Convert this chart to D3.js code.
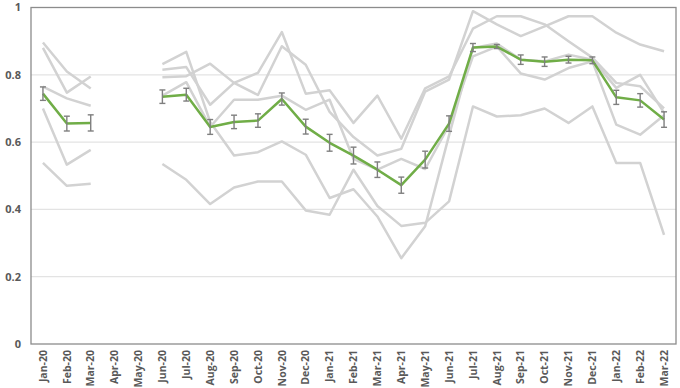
<!DOCTYPE html>
<html>
<head>
<meta charset="utf-8">
<script src="https://cdn.jsdelivr.net/npm/d3@7"></script>
<style>
  body { margin: 0; background: #fff; }
  text { font-family: "Open Sans", "Liberation Sans", sans-serif; font-weight: bold; fill: #595959; }
</style>
</head>
<body>
<svg id="chart" width="680" height="388"></svg>
<script>
// month categories
const months = ["Jan-20","Feb-20","Mar-20","Apr-20","May-20","Jun-20","Jul-20","Aug-20","Sep-20",
  "Oct-20","Nov-20","Dec-20","Jan-21","Feb-21","Mar-21","Apr-21","May-21","Jun-21","Jul-21",
  "Aug-21","Sep-21","Oct-21","Nov-21","Dec-21","Jan-22","Feb-22","Mar-22"];

// individual series (grey)
const s1 = [0.896,0.81,0.759,null,null,0.832,0.868,0.66,0.56,0.57,0.602,0.5625,0.434,0.46,0.379,0.255,0.35,0.62,0.88,0.893,0.845,0.84,0.86,0.845,0.761,0.80,0.687];
const s2 = [0.88,0.747,0.795,null,null,0.815,0.823,0.711,0.776,0.806,0.927,0.744,0.754,0.657,0.738,0.61,0.76,0.795,0.937,0.974,0.974,0.95,0.90,0.851,0.776,0.766,0.70];
const s3 = [0.765,0.73,0.708,null,null,0.793,0.796,0.833,0.776,0.74,0.885,0.83,0.69,0.615,0.56,0.58,0.75,0.786,0.989,0.95,0.915,0.944,0.974,0.974,0.925,0.89,0.87];
const s4 = [0.70,0.533,0.577,null,null,0.738,0.778,0.645,0.726,0.726,0.738,0.696,0.726,0.55,0.518,0.55,0.52,0.65,0.855,0.884,0.804,0.786,0.82,0.84,0.652,0.622,0.68];
const s5 = [0.538,0.47,0.476,null,null,0.535,0.488,0.416,0.465,0.483,0.483,0.397,0.384,0.518,0.41,0.351,0.36,0.424,0.706,0.676,0.68,0.70,0.657,0.706,0.538,0.538,0.324];
const greySeries = [s1, s2, s3, s4, s5];

// mean (green) and error
const meanVals = [0.744,0.655,0.657,null,null,0.735,0.741,0.645,0.66,0.664,0.728,0.646,0.598,0.56,0.518,0.472,0.548,0.655,0.881,0.884,0.845,0.839,0.845,0.843,0.733,0.724,0.667];
const errVals = [0.02,0.022,0.024,null,null,0.02,0.019,0.022,0.02,0.02,0.018,0.022,0.025,0.025,0.023,0.024,0.025,0.023,0.012,0.006,0.014,0.014,0.01,0.01,0.021,0.02,0.023];

const yTicks = [0, 0.2, 0.4, 0.6, 0.8, 1];

const svg = d3.select("#chart");
const m = { left: 31, right: 676, top: 7.5, bottom: 344 };

const x = d3.scaleBand().domain(months).range([m.left, m.right]).padding(0);
const y = d3.scaleLinear().domain([0, 1]).range([m.bottom, m.top]);
const cx = mo => x(mo) + x.bandwidth() / 2;

// gridlines
svg.append("g")
  .selectAll("line")
  .data(yTicks.filter(t => t > 0 && t < 1))
  .join("line")
  .attr("x1", m.left).attr("x2", m.right)
  .attr("y1", d => y(d)).attr("y2", d => y(d))
  .attr("stroke", "#e3e3e3").attr("stroke-width", 1.3);

// y labels
svg.append("g")
  .selectAll("text")
  .data(yTicks)
  .join("text")
  .attr("x", 21).attr("y", d => y(d))
  .attr("dy", "0.35em")
  .attr("text-anchor", "end")
  .style("font-size", "11px")
  .text(d => d);

// x labels
svg.append("g")
  .selectAll("text")
  .data(months)
  .join("text")
  .attr("transform", d => `translate(${cx(d)},350) rotate(-90)`)
  .attr("dy", "0.35em")
  .attr("text-anchor", "end")
  .style("font-size", "10.5px")
  .text(d => d);

const line = d3.line()
  .defined(d => d.v != null)
  .x(d => cx(d.m))
  .y(d => y(d.v));

// grey lines
svg.append("g")
  .selectAll("path")
  .data(greySeries)
  .join("path")
  .attr("d", s => line(s.map((v, i) => ({ m: months[i], v }))))
  .attr("fill", "none")
  .attr("stroke", "#d2d2d2")
  .attr("stroke-width", 2.5)
  .attr("stroke-linejoin", "round");

// green mean line
const meanPts = meanVals.map((v, i) => ({ m: months[i], v, e: errVals[i] }));
svg.append("path")
  .attr("d", line(meanPts))
  .attr("fill", "none")
  .attr("stroke", "#70ad47")
  .attr("stroke-width", 2.5)
  .attr("stroke-linejoin", "round");

// error bars
const eb = svg.append("g").attr("stroke", "#7f7f7f").attr("stroke-width", 1.4);
meanPts.filter(d => d.v != null).forEach(d => {
  const px = cx(d.m), y0 = y(d.v - d.e), y1 = y(d.v + d.e);
  eb.append("line").attr("x1", px).attr("x2", px).attr("y1", y0).attr("y2", y1);
  eb.append("line").attr("x1", px - 3).attr("x2", px + 3).attr("y1", y0).attr("y2", y0);
  eb.append("line").attr("x1", px - 3).attr("x2", px + 3).attr("y1", y1).attr("y2", y1);
});

// plot border
svg.append("rect")
  .attr("x", m.left).attr("y", m.top)
  .attr("width", m.right - m.left).attr("height", m.bottom - m.top)
  .attr("fill", "none")
  .attr("stroke", "#8c8c8c").attr("stroke-width", 1.3);
</script>
</body>
</html>
